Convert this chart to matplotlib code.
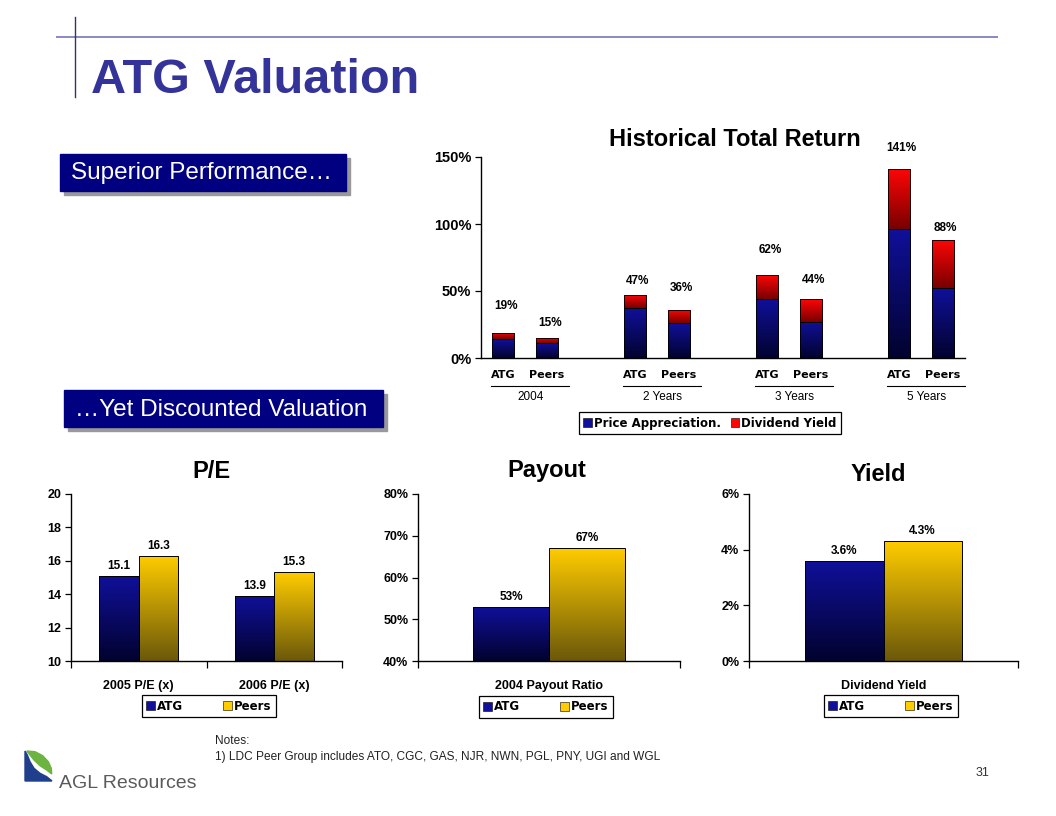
import matplotlib
matplotlib.use("Agg")
import matplotlib.pyplot as plt
import numpy as np
from matplotlib.colors import LinearSegmentedColormap
from matplotlib.patches import Rectangle, Polygon, Patch
from matplotlib.ticker import FuncFormatter, MultipleLocator

plt.rcParams["font.family"] = ["Liberation Sans", "DejaVu Sans"]

# ---- data -------------------------------------------------------------
periods = ["2004", "2 Years", "3 Years", "5 Years"]
members = ["ATG", "Peers"]
price_appreciation = [14, 11, 37, 26, 44, 27, 96, 52]
dividend_yield = [5, 4, 10, 10, 18, 17, 45, 36]

pe_categories = ["2005 P/E (x)", "2006 P/E (x)"]
pe_atg = [15.1, 13.9]
pe_peers = [16.3, 15.3]

payout_categories = ["2004 Payout Ratio"]
payout_atg = [53]
payout_peers = [67]

yield_categories = ["Dividend Yield"]
yield_atg = [3.6]
yield_peers = [4.3]

# lift of the total labels above each stacked bar (points)
label_lift = [19, 11, 10, 16, 18, 14, 15, 9]

# ---- style ------------------------------------------------------------
W, H = 1056, 816
NAVY_BOT, NAVY_TOP = "#02022e", "#10109a"
RED_BOT, RED_TOP = "#780000", "#ff0606"
GOLD_BOT, GOLD_TOP = "#6b580a", "#ffcc00"
BOX_BLUE = "#000080"
TITLE_BLUE = "#333399"
WIDE = ["DejaVu Sans"]   # closer to the Tahoma used by the chart legends
GRAD = np.linspace(0, 1, 256).reshape(-1, 1)


def frame(x0, y0, x1, y1):
  return [x0 / W, 1 - y1 / H, (x1 - x0) / W, (y1 - y0) / H]


def shade(ax, bars, c_bot, c_top, floor=None):
  cmap = LinearSegmentedColormap.from_list("g", [c_bot, c_top])
  for b in bars:
    x0, y0, w, h = b.get_x(), b.get_y(), b.get_width(), b.get_height()
    lo = y0 if floor is None else max(y0, floor)
    im = ax.imshow(GRAD, cmap=cmap, origin="lower", aspect="auto",
                   extent=[x0, x0 + w, lo, y0 + h], zorder=2,
                   interpolation="bilinear")
    im.set_clip_path(b)


def style_axes(ax):
  ax.set_facecolor("none")
  for s in ("top", "right"):
    ax.spines[s].set_visible(False)
  for s in ("left", "bottom"):
    ax.spines[s].set_linewidth(1.0)
  ax.tick_params(axis="y", length=4, width=0.9, direction="out", pad=3)


def boxed_legend(ax, handles, labels, xy, colsp):
  lg = ax.legend(handles, labels, loc="center",
                 bbox_to_anchor=(xy[0] / W, 1 - xy[1] / H),
                 bbox_transform=fig.transFigure, ncol=len(labels),
                 fancybox=False, edgecolor="black", framealpha=1,
                 prop={"family": WIDE, "weight": "bold", "size": 8.5},
                 handlelength=0.7, handleheight=0.7, handletextpad=0.2,
                 columnspacing=colsp, borderpad=0.35)
  lg.get_frame().set_linewidth(0.9)
  return lg


fig = plt.figure(figsize=(W / 100, H / 100), dpi=100)

# background layer in pixel coordinates for slide decorations
bg = fig.add_axes([0, 0, 1, 1], zorder=-1)
bg.set_xlim(0, W)
bg.set_ylim(H, 0)
bg.axis("off")

bg.plot([57, 997], [37, 37], color="#8888c4", lw=1.4)
bg.plot([75, 75], [17, 97], color="#333366", lw=1.0)
bg.text(91, 93, "ATG Valuation", fontsize=35, fontweight="bold",
        color=TITLE_BLUE, va="baseline", ha="left")

for (x0, y0, x1, y1), txt in [((60, 154, 346, 191), "Superior Performance\u2026"),
                              ((64, 390, 383, 427), "\u2026Yet Discounted Valuation")]:
  bg.add_patch(Rectangle((x0 + 4, y0 + 4), x1 - x0, y1 - y0, color="#999999"))
  bg.add_patch(Rectangle((x0, y0), x1 - x0, y1 - y0, color=BOX_BLUE))
  bg.text(x0 + 11, (y0 + y1) / 2 + 1, txt, color="white", fontsize=17.5,
          va="center", ha="left")

# logo
bg.add_patch(Polygon([(25, 751), (25, 781), (52, 781), (46.7, 776.7), (40, 773.3),
                      (34, 768.3), (30, 761.7), (27.3, 755)], color="#1f3f8c"))
bg.add_patch(Polygon([(26.7, 751), (35, 751.7), (42.7, 755.7), (48.3, 761.7),
                      (51.3, 768.3), (51.7, 774), (46.7, 770), (40, 765.7),
                      (34, 760), (30, 755)], color="#6cb33f"))
bg.text(59, 788, "AGL Resources", fontsize=14, color="#5a5a5a", va="baseline")

bg.text(215, 741, "Notes:", fontsize=8.6, color="#222222", va="center")
bg.text(215, 757, "1) LDC Peer Group includes ATO, CGC, GAS, NJR, NWN, PGL, PNY, UGI and WGL",
        fontsize=8.6, color="#222222", va="center")
bg.text(982, 773, "31", fontsize=9, color="#333333", ha="center", va="center")

# ---- Historical Total Return -----------------------------------------
ax = fig.add_axes(frame(481, 157, 965, 358))
style_axes(ax)
x = np.array([3 * g + k for g in range(len(periods)) for k in range(len(members))])
b1 = ax.bar(x, price_appreciation, width=0.52, facecolor="none",
            edgecolor="black", lw=0.6, zorder=3)
b2 = ax.bar(x, dividend_yield, bottom=price_appreciation, width=0.52,
            facecolor="none", edgecolor="black", lw=0.6, zorder=3)
shade(ax, b1, NAVY_BOT, NAVY_TOP)
shade(ax, b2, RED_BOT, RED_TOP)
ax.set_xlim(-0.5, 10.5)
ax.set_ylim(0, 150)
ax.yaxis.set_major_locator(MultipleLocator(50))
ax.yaxis.set_major_formatter(FuncFormatter(lambda v, p: f"{v:.0f}%"))
ax.set_xticks(x, members * len(periods))
ax.tick_params(axis="x", length=0, pad=9)
for t in ax.get_yticklabels():
  t.set_fontweight("bold")
  t.set_fontsize(10.5)
for t in ax.get_xticklabels():
  t.set_family(WIDE)
  t.set_fontweight("bold")
  t.set_fontsize(8)

totals = np.add(price_appreciation, dividend_yield)
for xi, tot, lift in zip(x, totals, label_lift):
  ax.annotate(f"{tot:.0f}%", (xi, tot), xytext=(2, lift), textcoords="offset points",
              ha="center", va="center", fontsize=8.5, fontweight="bold",
              annotation_clip=False)

trans = ax.get_xaxis_transform()
for g, name in enumerate(periods):
  x0 = 3 * g
  ax.plot([x0 - 0.27, x0 + 1.5], [-0.139, -0.139], transform=trans,
          color="black", lw=0.8, clip_on=False)
  ax.text(x0 + 0.62, -0.196, name, transform=trans, ha="center", va="center",
          fontsize=8.5)

handles = [Patch(facecolor=NAVY_TOP, edgecolor="black", lw=0.4),
           Patch(facecolor=RED_TOP, edgecolor="black", lw=0.4)]
boxed_legend(ax, handles, ["Price Appreciation.", "Dividend Yield"], (710, 423), 0.8)
bg.text(735, 146, "Historical Total Return", fontsize=17, fontweight="bold",
        ha="center", va="baseline")


# ---- small comparison charts ----------------------------------------
def pair_chart(box, cats, atg, peers, ylim, step, tick_fmt, label_fmt,
               title, title_xy, legend_xy):
  ax = fig.add_axes(frame(*box))
  style_axes(ax)
  xc = np.arange(len(cats))
  w = 0.29
  ba = ax.bar(xc - w / 2, atg, width=w, facecolor="none", edgecolor="black",
              lw=0.7, zorder=3)
  bp = ax.bar(xc + w / 2, peers, width=w, facecolor="none", edgecolor="black",
              lw=0.7, zorder=3)
  shade(ax, ba, NAVY_BOT, NAVY_TOP, floor=ylim[0])
  shade(ax, bp, GOLD_BOT, GOLD_TOP, floor=ylim[0])
  ax.set_xlim(-0.5, len(cats) - 0.5)
  ax.set_ylim(*ylim)
  ax.yaxis.set_major_locator(MultipleLocator(step))
  ax.yaxis.set_major_formatter(FuncFormatter(lambda v, p: tick_fmt.format(v)))
  ax.set_xticks(np.arange(len(cats) + 1) - 0.5, [""] * (len(cats) + 1))
  ax.set_xticks(xc, cats, minor=True)
  ax.tick_params(axis="x", which="major", length=5, width=0.9, direction="out")
  ax.tick_params(axis="x", which="minor", length=0, pad=14)
  for t in ax.get_xticklabels(which="both") + ax.get_yticklabels():
    t.set_fontweight("bold")
    t.set_fontsize(9)

  for bars, vals in ((ba, atg), (bp, peers)):
    for b, v in zip(bars, vals):
      ax.annotate(label_fmt.format(v), (b.get_x() + b.get_width() / 2, v),
                  xytext=(0, 3), textcoords="offset points", ha="center",
                  va="bottom", fontsize=8.5, fontweight="bold")

  hnd = [Patch(facecolor=NAVY_TOP, edgecolor="black", lw=0.4),
         Patch(facecolor=GOLD_TOP, edgecolor="black", lw=0.4)]
  boxed_legend(ax, hnd, ["ATG", "Peers"], legend_xy, 3.4)
  bg.text(title_xy[0], title_xy[1], title, fontsize=17, fontweight="bold",
          ha="center", va="baseline")
  return ax


pair_chart((71, 494, 342, 661), pe_categories, pe_atg, pe_peers, (10, 20), 2,
           "{:.0f}", "{:.1f}", "P/E", (211, 478), (209, 706))
pair_chart((418, 494, 680, 661), payout_categories, payout_atg, payout_peers,
           (40, 80), 10, "{:.0f}%", "{:.0f}%", "Payout", (547, 477), (546, 707))
pair_chart((749, 494, 1018, 661), yield_categories, yield_atg, yield_peers,
           (0, 6), 2, "{:.0f}%", "{:.1f}%", "Yield", (878, 481), (891, 706))

fig.savefig("out.png", dpi=100, facecolor="white")
